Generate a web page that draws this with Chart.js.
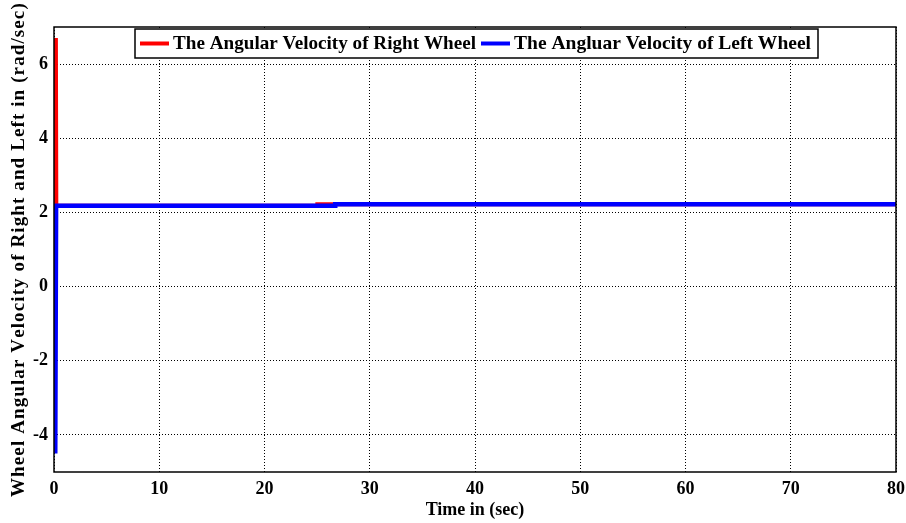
<!DOCTYPE html>
<html><head><meta charset="utf-8">
<script src="https://cdn.jsdelivr.net/npm/chart.js@4/dist/chart.umd.min.js"></script>
<style>html,body{margin:0;padding:0;background:#fff}#wrap{width:906px;height:523px}</style>
</head><body><div id="wrap"><canvas id="c" width="906" height="523"></canvas></div>
<script>
const rightTime = [0.18, 0.18, 0.22, 25, 25.02, 80];
const rightVel  = [0, 6.7, 2.18, 2.18, 2.22, 2.22];
const leftTime  = [0.12, 0.12, 0.2, 26.7, 26.72, 80];
const leftVel   = [0, -4.5, 2.18, 2.18, 2.22, 2.22];
const xTicks = [0, 10, 20, 30, 40, 50, 60, 70, 80];
const yTicks = [-4, -2, 0, 2, 4, 6];
const seriesNames = ['The Angular Velocity of Right Wheel', 'The Angluar Velocity of Left Wheel'];
const seriesColors = ['#ff0000', '#0000ff'];
const yTitle = 'Wheel Angular Velocity of Right and Left in (rad/sec)';

const FONT = '"Liberation Serif", "Times New Roman", serif';

const boxPlugin = {
  id: 'box',
  afterDatasetsDraw(chart) {
    const {ctx, chartArea: a} = chart;
    ctx.save();
    ctx.strokeStyle = '#000'; ctx.lineWidth = 1.5;
    ctx.strokeRect(a.left, a.top, a.right - a.left, a.bottom - a.top);
    // legend
    const lx = 135, ly = 29, lw = 683, lh = 29;
    ctx.fillStyle = '#fff';
    ctx.fillRect(lx, ly, lw, lh);
    ctx.lineWidth = 1.5;
    ctx.strokeRect(lx, ly, lw, lh);
    ctx.font = 'bold 19px ' + FONT;
    ctx.textBaseline = 'middle';
    const items = [{x: 140, w: 303}, {x: 481, w: 297}];
    items.forEach((it, i) => {
      ctx.strokeStyle = seriesColors[i]; ctx.lineWidth = 4;
      ctx.beginPath(); ctx.moveTo(it.x, ly + lh/2); ctx.lineTo(it.x + 29, ly + lh/2); ctx.stroke();
      ctx.fillStyle = '#000';
      const tw = ctx.measureText(seriesNames[i]).width;
      ctx.save();
      ctx.translate(it.x + 33, ly + lh/2 + 1);
      ctx.scale(it.w / tw, 1);
      ctx.fillText(seriesNames[i], 0, 0);
      ctx.restore();
    });
    // y title with letter spacing
    ctx.save();
    ctx.font = 'bold 19px ' + FONT;
    ctx.fillStyle = '#000';
    ctx.textAlign = 'left';
    ctx.textBaseline = 'middle';
    const w0 = ctx.measureText(yTitle).width;
    const target = 492;
    const sp = (target - w0) / (yTitle.length - 1);
    ctx.translate(19, 251);
    ctx.rotate(-Math.PI / 2);
    let x = -target / 2;
    for (const ch of yTitle) {
      ctx.fillText(ch, x, 0);
      x += ctx.measureText(ch).width + sp;
    }
    ctx.restore();
    ctx.restore();
  }
};

new Chart(document.getElementById('c'), {
  type: 'line',
  data: {
    datasets: [
      {label: seriesNames[0], order: 2, data: rightTime.map((t, i) => ({x: t, y: rightVel[i]})), borderColor: seriesColors[0], borderWidth: 4, pointRadius: 0, tension: 0, fill: false},
      {label: seriesNames[1], order: 1, data: leftTime.map((t, i) => ({x: t, y: leftVel[i]})), borderColor: seriesColors[1], borderWidth: 4.5, pointRadius: 0, tension: 0, fill: false}
    ]
  },
  options: {
    responsive: false, animation: false,
    layout: {padding: {top: 27, right: 10, left: 0, bottom: 0}},
    plugins: {legend: {display: false}, tooltip: {enabled: false}},
    scales: {
      x: {
        type: 'linear', min: 0, max: 80,
        afterBuildTicks: s => { s.ticks = xTicks.map(v => ({value: v})); },
        afterFit: s => { s.height = 51; s.paddingRight = 0; s.paddingLeft = 0; },
        grid: {color: '#000', lineWidth: 1, drawTicks: false},
        border: {display: false, dash: [1, 2]},
        ticks: {color: '#000', font: {family: FONT, size: 18, weight: 'bold'}, padding: 7, maxRotation: 0},
        title: {display: true, text: 'Time in (sec)', color: '#000', font: {family: FONT, size: 18, weight: 'bold'}, padding: {top: 0, bottom: 2}}
      },
      y: {
        type: 'linear', min: -5, max: 7,
        afterBuildTicks: s => { s.ticks = yTicks.map(v => ({value: v})); },
        afterFit: s => { s.width = 54; },
        grid: {color: '#000', lineWidth: 1, drawTicks: false},
        border: {display: false, dash: [1, 2]},
        ticks: {color: '#000', font: {family: FONT, size: 18, weight: 'bold'}, padding: 6},
        title: {display: false}
      }
    }
  },
  plugins: [boxPlugin]
});
</script></body></html>
